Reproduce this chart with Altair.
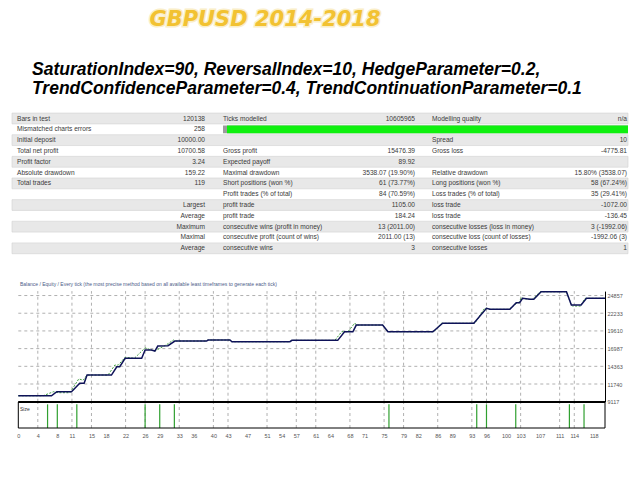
import altair as alt
import pandas as pd

# ---------------- texts ----------------
TITLE = "GBPUSD 2014-2018"
PARAM_LINE_1 = "SaturationIndex=90, ReversalIndex=10, HedgeParameter=0.2,"
PARAM_LINE_2 = "TrendConfidenceParameter=0.4, TrendContinuationParameter=0.1"
GRAPH_CAPTION = ("Balance / Equity / Every tick (the most precise method based on all "
                 "available least timeframes to generate each tick)")
SIZE_CAPTION = "Size"

# ---------------- report table ----------------
TABLE_ROWS = [
    ["Bars in test", "120138", "Ticks modelled", "10605965", "Modelling quality", "n/a"],
    ["Mismatched charts errors", "258", "", "", "", ""],
    ["Initial deposit", "10000.00", "", "", "Spread", "10"],
    ["Total net profit", "10700.58", "Gross profit", "15476.39", "Gross loss", "-4775.81"],
    ["Profit factor", "3.24", "Expected payoff", "89.92", "", ""],
    ["Absolute drawdown", "159.22", "Maximal drawdown", "3538.07 (19.90%)", "Relative drawdown", "15.80% (3538.07)"],
    ["Total trades", "119", "Short positions (won %)", "61 (73.77%)", "Long positions (won %)", "58 (67.24%)"],
    ["", "", "Profit trades (% of total)", "84 (70.59%)", "Loss trades (% of total)", "35 (29.41%)"],
    ["", "Largest", "profit trade", "1105.00", "loss trade", "-1072.00"],
    ["", "Average", "profit trade", "184.24", "loss trade", "-136.45"],
    ["", "Maximum", "consecutive wins (profit in money)", "13 (2011.00)", "consecutive losses (loss in money)", "3 (-1992.06)"],
    ["", "Maximal", "consecutive profit (count of wins)", "2011.00 (13)", "consecutive loss (count of losses)", "-1992.06 (3)"],
    ["", "Average", "consecutive wins", "3", "consecutive losses", "1"],
]
QUALITY_ROW = 1

# ---------------- balance / equity graph ----------------
BAL_T = [0, 6.8, 7.9, 10.9, 12.6, 13.5, 14.1, 19.1, 20.2, 20.8,
         21.9, 25.3, 26.0, 27.3, 28.0, 28.6, 30.7, 32.1, 38.6, 38.9,
         43.4, 43.8, 55.7, 56.1, 65.5, 66.9, 68.6, 69.3, 74.7, 75.8,
         85.0, 87.0, 93.4, 96.0, 96.7, 100.8, 102.1, 102.8, 103.4, 104.9,
         105.7, 107.2, 112.4, 113.4, 115.4, 116.5, 120.3]
BAL_V = [10000, 10000, 10600, 10600, 11840, 11840, 13070, 13070, 14300, 14300,
         15550, 15550, 16780, 16780, 16630, 17370, 17420, 18110, 18110, 18260,
         18260, 18010, 18010, 18210, 18210, 19490, 19490, 20480, 20480, 19490,
         19490, 20740, 20740, 22960, 22810, 22810, 23790, 23790, 24440, 24290,
         24290, 25420, 25420, 23450, 23450, 24440, 24440]

EQ_T = [0, 5.1, 7.2, 8.2, 10.6, 12.4, 13.3, 14.1, 18.4, 19.8,
        20.5, 21.9, 23.8, 26.0, 27.3, 28.0, 30.4, 31.8, 32.1, 38.6,
        38.9, 43.4, 43.8, 55.7, 56.1, 64.9, 66.3, 67.6, 69.0, 69.3,
        74.7, 75.8, 85.2, 86.8, 87.0, 93.6, 95.6, 96.0, 96.7, 100.6,
        102.1, 102.6, 103.2, 103.4, 104.9, 105.4, 107.0, 112.4, 113.4, 113.6,
        115.3, 116.2, 120.3]
EQ_V = [10000, 10000, 10600, 10450, 10450, 12500, 12300, 13070, 13070, 14550,
        14550, 15700, 15550, 17100, 16780, 16630, 17570, 18260, 18110, 18110,
        18260, 18260, 18010, 18010, 18210, 18210, 19490, 19490, 20780, 20480,
        20480, 19490, 19490, 20780, 20740, 20740, 22960, 22960, 22810, 22810,
        23660, 23790, 24600, 24440, 24290, 24290, 25420, 25420, 23450, 23300,
        23300, 24440, 24440]

SIZE_T = [6, 8, 12, 26, 29, 32, 76, 94, 96, 102, 113, 116]
SIZE_LOTS = [0.1, 0.1, 0.1, 0.1, 0.1, 0.1, 0.1, 0.1, 0.1, 0.1, 0.1, 0.1]

X_TICKS = [0, 4, 8, 11, 15, 18, 22, 26, 29, 33, 36, 40, 43, 47, 51, 54, 57,
           61, 64, 68, 71, 75, 79, 82, 86, 89, 93, 96, 100, 103, 107, 111, 114, 118]
X_GRID = [4, 11, 15, 22, 26, 33, 40, 43, 51, 57, 61, 68, 75, 79, 86, 93, 96, 103, 111, 114]
Y_TICKS = [9117, 11740, 14363, 16987, 19610, 22233, 24857]

T_MAX = 120.3
BAL_TOP = 25514
LOT_TOP = 0.11

# ---------------- scales ----------------
TS = alt.Scale(domain=[0, T_MAX], range=[10.3, 597], nice=False, zero=False)
BS = alt.Scale(domain=[Y_TICKS[0], BAL_TOP], range=[393.7, 283.1], nice=False, zero=False)
SS = alt.Scale(domain=[0, LOT_TOP], range=[420, 394], nice=False, zero=False)
CS = alt.Scale(domain=[0, 1, 2, 3, 4, 5, 6, 7], range=[4, 9, 197, 215, 407, 424, 619, 620],
               nice=False, zero=False)
RS = alt.Scale(domain=[0, 12], range=[110.5, 240.3], nice=False, zero=False)

FONT = "Liberation Sans"

# ---------------- data frames ----------------
cells = []
for r, row in enumerate(TABLE_ROWS):
    for c, txt in enumerate(row):
        if txt:
            cells.append({"row": r, "col": c + 1, "text": txt, "side": "L" if c % 2 == 0 else "R"})
cells_df = pd.DataFrame(cells)
rows_df = pd.DataFrame({"row": list(range(len(TABLE_ROWS)))})
prog_df = pd.DataFrame({"row": [QUALITY_ROW]})
bal_df = pd.DataFrame({"t": BAL_T, "v": BAL_V, "i": list(range(len(BAL_T)))})
eq_df = pd.DataFrame({"t": EQ_T, "v": EQ_V, "i": list(range(len(EQ_T)))})
size_df = pd.DataFrame({"t": SIZE_T, "lot": SIZE_LOTS})
ygrid_df = pd.DataFrame({"v": Y_TICKS[1:]})
xgrid_df = pd.DataFrame({"t": X_GRID})
one = pd.DataFrame({"k": [0]})

layers = []

# header
layers.append(alt.Chart(pd.DataFrame({"s": [TITLE]})).mark_text(
    align="center", baseline="middle", font="DejaVu Sans", fontSize=21, fontWeight="bold",
    fontStyle="italic", color="#F8E3A0", stroke="#F8E7B0", strokeWidth=3, opacity=0.7
).encode(text="s:N", x=alt.value(257), y=alt.value(12)))
layers.append(alt.Chart(pd.DataFrame({"s": [TITLE]})).mark_text(
    align="center", baseline="middle", font="DejaVu Sans", fontSize=21, fontWeight="bold",
    fontStyle="italic", color="#F2C232"
).encode(text="s:N", x=alt.value(257), y=alt.value(12)))
for txt, yy in [(PARAM_LINE_1, 62), (PARAM_LINE_2, 81)]:
    layers.append(alt.Chart(pd.DataFrame({"s": [txt]})).mark_text(
        align="left", baseline="middle", font=FONT, fontSize=17.5, fontWeight="bold",
        fontStyle="italic", color="#000000"
    ).encode(text="s:N", x=alt.value(24), y=alt.value(yy)))

# table backgrounds
layers.append(alt.Chart(rows_df).transform_filter("datum.row % 2 == 0").transform_calculate(
    y0="datum.row - 0.5", y1="datum.row + 0.5"
).mark_rect(fill="#E8E8E8", stroke="#D2D2D2", strokeWidth=0.6).encode(
    x=alt.XDatum(0, scale=CS, axis=None, type="quantitative"), x2=alt.X2Datum(7),
    y=alt.Y("y0:Q", scale=RS, axis=None), y2="y1:Q"))

# modelling quality bar
layers.append(alt.Chart(prog_df).transform_calculate(
    y0="datum.row - 0.36", y1="datum.row + 0.36"
).mark_rect(fill="#9C9C9C").encode(
    x=alt.XDatum(3, scale=CS, axis=None, type="quantitative"), x2=alt.X2Datum(7),
    y=alt.Y("y0:Q", scale=RS, axis=None), y2="y1:Q"))
layers.append(alt.Chart(prog_df).transform_calculate(
    y0="datum.row - 0.36", y1="datum.row + 0.36"
).mark_rect(fill="#0FF00F", xOffset=4).encode(
    x=alt.XDatum(3, scale=CS, axis=None, type="quantitative"), x2=alt.X2Datum(7),
    y=alt.Y("y0:Q", scale=RS, axis=None), y2="y1:Q"))

# table texts
for side, al in [("L", "left"), ("R", "right")]:
    layers.append(alt.Chart(cells_df).transform_filter(f"datum.side == '{side}'").mark_text(
        align=al, baseline="middle", font=FONT, fontSize=6.6, color="#3A3A3A"
    ).encode(x=alt.X("col:Q", scale=CS, axis=None), y=alt.Y("row:Q", scale=RS, axis=None),
             text="text:N"))

# grid
GRID = dict(color="#B0B0B0", strokeDash=[3, 3], strokeWidth=1)
layers.append(alt.Chart(ygrid_df).mark_rule(**GRID).encode(
    y=alt.Y("v:Q", scale=BS, axis=None),
    x=alt.XDatum(0, scale=TS, axis=None, type="quantitative"), x2=alt.X2Datum(T_MAX)))
layers.append(alt.Chart(xgrid_df).mark_rule(**GRID).encode(
    x=alt.X("t:Q", scale=TS, axis=None),
    y=alt.YDatum(Y_TICKS[0], scale=BS, axis=None, type="quantitative"), y2=alt.Y2Datum(BAL_TOP)))
layers.append(alt.Chart(xgrid_df).mark_rule(**GRID).encode(
    x=alt.X("t:Q", scale=TS, axis=None),
    y=alt.YDatum(0, scale=SS, axis=None, type="quantitative"), y2=alt.Y2Datum(LOT_TOP)))

# equity and balance
layers.append(alt.Chart(eq_df).mark_line(color="#3E9E3E", strokeWidth=1, strokeDash=[2, 1.5]).encode(
    x=alt.X("t:Q", scale=TS, axis=None), y=alt.Y("v:Q", scale=BS, axis=None), order="i:Q"))
layers.append(alt.Chart(bal_df).mark_line(color="#0E1258", strokeWidth=1.5).encode(
    x=alt.X("t:Q", scale=TS, axis=None),
    y=alt.Y("v:Q", scale=BS, axis=alt.Axis(
        orient="right", values=Y_TICKS, format="d", offset=-27, title=None, grid=False,
        ticks=False, domainColor="#000000", domainWidth=1, labelFontSize=5.5,
        labelFont=FONT, labelColor="#555555", labelPadding=2, labelOverlap=False,
        labelFlush=False)),
    order="i:Q"))

# size sub-panel
layers.append(alt.Chart(size_df).mark_rule(color="#30A030", strokeWidth=1.2).encode(
    x=alt.X("t:Q", scale=TS, axis=alt.Axis(
        orient="bottom", values=X_TICKS, offset=-44, title=None, grid=False, ticks=False,
        domain=False, labelFontSize=5.5, labelFont=FONT, labelColor="#555555",
        labelPadding=5, labelOverlap=False, labelFlush=False)),
    y=alt.Y("lot:Q", scale=SS, axis=None), y2=alt.Y2Datum(0)))
layers.append(alt.Chart(one).mark_rect(fillOpacity=0, stroke="#000000", strokeWidth=1).encode(
    x=alt.XDatum(0, scale=TS, axis=None, type="quantitative"), x2=alt.X2Datum(T_MAX),
    y=alt.YDatum(0, scale=SS, axis=None, type="quantitative"), y2=alt.Y2Datum(LOT_TOP)))
layers.append(alt.Chart(one).mark_rule(color="#000000", strokeWidth=2).encode(
    x=alt.XDatum(0, scale=TS, axis=None, type="quantitative"), x2=alt.X2Datum(T_MAX),
    y=alt.YDatum(LOT_TOP, scale=SS, axis=None, type="quantitative")))

# captions
layers.append(alt.Chart(pd.DataFrame({"s": [GRAPH_CAPTION]})).mark_text(
    align="left", baseline="middle", font=FONT, fontSize=5, color="#4C5C88"
).encode(text="s:N", x=alt.value(12), y=alt.value(276)))
layers.append(alt.Chart(pd.DataFrame({"s": [SIZE_CAPTION]})).mark_text(
    align="left", baseline="middle", font=FONT, fontSize=5, color="#333333"
).encode(text="s:N", x=alt.value(12), y=alt.value(401)))

chart = alt.layer(*layers).resolve_scale(x="independent", y="independent").properties(
    width=624, height=464, autosize=alt.AutoSizeParams(type="none"), padding=0,
    background="white"
).configure_view(stroke=None)

chart.save("out.html", embed_options={"renderer": "svg", "actions": False})
